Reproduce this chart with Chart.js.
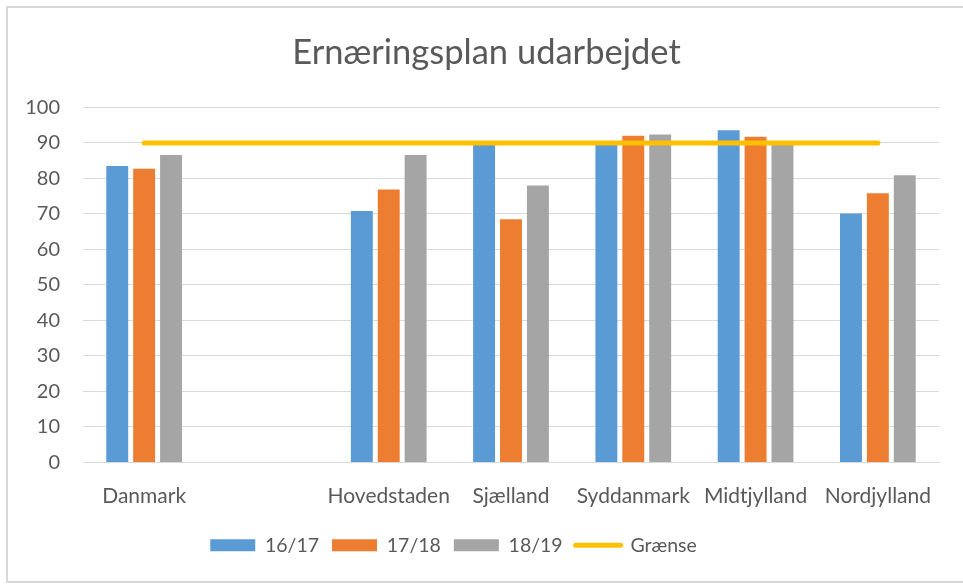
<!DOCTYPE html>
<html>
<head>
<meta charset="utf-8">
<script src="https://cdn.jsdelivr.net/npm/chart.js@4/dist/chart.umd.min.js"></script>
<style>
  html, body { margin: 0; padding: 0; background: #fff; }
</style>
</head>
<body>
<canvas id="chart" width="963" height="584"></canvas>
<script>
const regions = ["Danmark", "", "Hovedstaden", "Sjælland", "Syddanmark", "Midtjylland", "Nordjylland"];
const v1617 = [83.5, null, 70.8, 89.6, 89.6, 93.6, 70.1];
const v1718 = [82.7, null, 76.9, 68.5, 92.0, 91.7, 75.8];
const v1819 = [86.6, null, 86.6, 78.0, 92.4, 89.6, 80.9];
const limit = [90, 90, 90, 90, 90, 90, 90];

const grey = "#595959";
const font = "Lato, 'Open Sans', sans-serif";

// white background + thin frame like the office chart box
const frame = {
  id: "frame",
  afterLayout(chart) {
    // excel centres title and legend a bit differently than chart.js
    chart.titleBlock.left += 17;
    chart.titleBlock.right += 17;
    chart.legend.left -= 16;
    chart.legend.right -= 16;
  },
  beforeDraw(chart) {
    const c = chart.ctx;
    c.save();
    c.fillStyle = "#fff";
    c.fillRect(0, 0, chart.width, chart.height);
    c.strokeStyle = "#d9d9d9";
    c.lineWidth = 2;
    c.strokeRect(7, 7, chart.width + 10, chart.height - 9);
    c.restore();
  }
};

function bar(label, data, color) {
  return {
    type: "bar",
    label: label,
    data: data,
    backgroundColor: color,
    categoryPercentage: 0.66,
    barPercentage: 0.815,
    order: 2
  };
}

new Chart(document.getElementById("chart"), {
  data: {
    labels: regions,
    datasets: [
      bar("16/17", v1617, "#5B9BD5"),
      bar("17/18", v1718, "#ED7D31"),
      bar("18/19", v1819, "#A5A5A5"),
      {
        type: "line",
        label: "Grænse",
        data: limit,
        borderColor: "#FFC000",
        backgroundColor: "#FFC000",
        borderWidth: 5,
        borderCapStyle: "round",
        pointRadius: 0,
        order: 1
      }
    ]
  },
  plugins: [frame],
  options: {
    responsive: false,
    animation: false,
    layout: { padding: { left: 0, right: 24, top: 0, bottom: 19 } },
    scales: {
      x: {
        grid: { display: false, drawTicks: false },
        border: { display: true, color: "#d9d9d9", width: 1 },
        ticks: { color: grey, font: { family: font, size: 21 }, padding: 21, maxRotation: 0, autoSkip: false },
        afterFit(s) { s.height = 60; }
      },
      y: {
        min: 0,
        max: 100,
        ticks: { stepSize: 10, color: grey, font: { family: font, size: 20 }, padding: 23 },
        grid: { color: "#d9d9d9", lineWidth: 1, drawTicks: false },
        border: { display: false },
        afterFit(s) { s.width = 83; }
      }
    },
    plugins: {
      title: {
        display: true,
        text: "Ernæringsplan udarbejdet",
        color: grey,
        font: { family: font, size: 34.5, weight: "normal" },
        padding: { top: 32, bottom: 34 }
      },
      legend: {
        position: "bottom",
        labels: {
          color: grey,
          font: { family: font, size: 19.5 },
          usePointStyle: true,
          pointStyleWidth: 45,
          boxHeight: 12,
          padding: 13,
          sort: (a, b) => a.datasetIndex - b.datasetIndex,
          generateLabels(chart) {
            const items = Chart.defaults.plugins.legend.labels.generateLabels(chart);
            items.forEach((it) => {
              const ds = chart.data.datasets[it.datasetIndex];
              if (ds.type === "line") {
                it.pointStyle = "line";
                it.lineWidth = 5;
                it.lineCap = "round";
                it.strokeStyle = "#FFC000";
              } else {
                it.pointStyle = "rect";
                it.lineWidth = 0;
                it.strokeStyle = "rgba(0,0,0,0)";
              }
            });
            return items;
          }
        }
      },
      tooltip: { enabled: false }
    }
  }
});
</script>
</body>
</html>
